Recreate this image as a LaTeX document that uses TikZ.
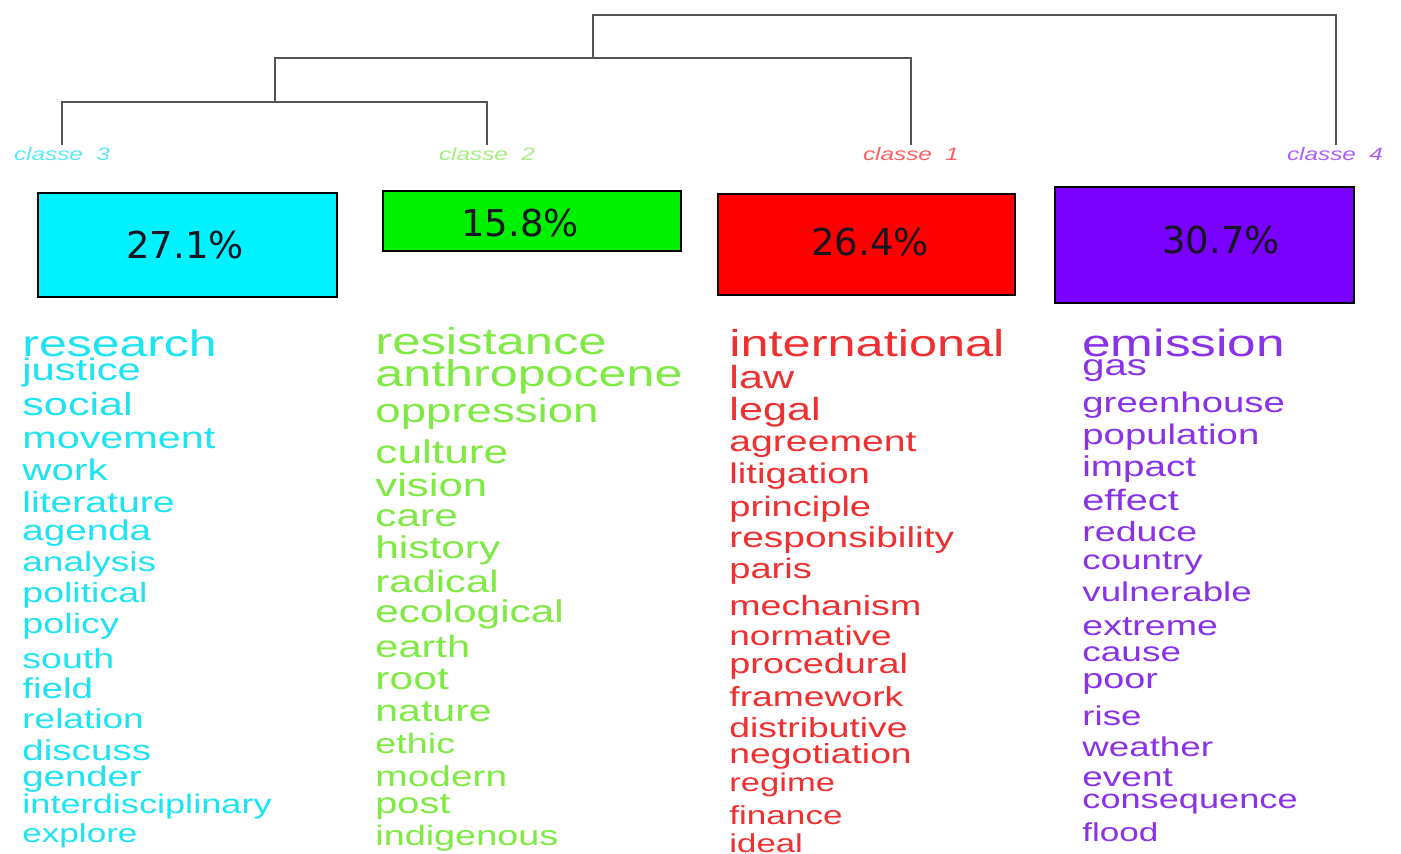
\documentclass[tikz,border=0pt]{standalone}
\usepackage{fontspec}
\setmainfont{Liberation Sans}
\newfontfamily\wf{Liberation Sans}
\newfontfamily\pf{DejaVu Sans}
\definecolor{cyanT}{RGB}{30,228,242}
\definecolor{greenT}{RGB}{128,234,68}
\definecolor{redT}{RGB}{240,48,48}
\definecolor{purpT}{RGB}{138,50,232}
\definecolor{cyanL}{RGB}{90,232,246}
\definecolor{greenL}{RGB}{165,238,125}
\definecolor{redL}{RGB}{255,95,95}
\definecolor{purpL}{RGB}{172,95,255}
\definecolor{cyanB}{RGB}{0,242,255}
\definecolor{greenB}{RGB}{0,242,0}
\definecolor{redB}{RGB}{255,0,0}
\definecolor{purpB}{RGB}{122,0,255}
\definecolor{treeC}{RGB}{85,85,85}
\definecolor{pctC}{RGB}{22,22,32}
\newcommand\W[5]{\node[word] (#1) at (#2,#3) {\fontsize{#4}{#4}\selectfont\scalebox{1.35}[1]{#5}};}
\tikzset{
  word/.style={anchor=base west, inner sep=0pt, font=\wf},
  tree/.style={draw=treeC, line width=1pt},
  pbox/.style={draw=black, line width=1pt, inner sep=0pt},
  pct/.style={text=pctC, inner sep=0pt, font=\pf\fontsize{18.5}{18.5}\selectfont},
  cls/.style={anchor=base, inner sep=0pt, font=\wf\itshape\fontsize{9}{9}\selectfont}
}
\begin{document}
\begin{tikzpicture}[x=0.5pt,y=-0.5pt]
\useasboundingbox[fill=white] (0,0) rectangle (1401,854);
% dendrogram
\coordinate (t3) at (62,145);
\coordinate (t2) at (487,145);
\coordinate (t1) at (911,145);
\coordinate (t4) at (1336,145);
\coordinate (m32) at (275,102);
\coordinate (m321) at (593,58);
\coordinate (root) at (593,15);
\draw[tree] (t3) |- (m32) -| (t2);
\draw[tree] (m32) |- (m321) -| (t1);
\draw[tree] (m321) -- (root) -| (t4);
% class labels
\node[cls,text=cyanL] (c3) at (62,161) {\scalebox{1.35}[1]{classe\ \ 3}};
\node[cls,text=greenL] (c2) at (487,161) {\scalebox{1.35}[1]{classe\ \ 2}};
\node[cls,text=redL] (c1) at (911,161) {\scalebox{1.35}[1]{classe\ \ 1}};
\node[cls,text=purpL] (c4) at (1335,161) {\scalebox{1.35}[1]{classe\ \ 4}};
% boxes
\node[pbox,fill=cyanB,minimum width=149.5pt,minimum height=52pt] (b3) at (187.5,245) {};
\node[pbox,fill=greenB,minimum width=149pt,minimum height=30pt] (b2) at (532,221) {};
\node[pbox,fill=redB,minimum width=148.5pt,minimum height=50.5pt] (b1) at (866.5,244.5) {};
\node[pbox,fill=purpB,minimum width=149.5pt,minimum height=58pt] (b4) at (1204.5,245) {};
\node[pct] (p3) at (185,245) {27.1\%};
\node[pct] (p2) at (520,223) {15.8\%};
\node[pct] (p1) at (870,242) {26.4\%};
\node[pct] (p4) at (1221,240) {30.7\%};
% classe 3 words
\begin{scope}[every node/.append style={text=cyanT}]
\W{a1}{22}{357}{18.5}{research}
\W{a2}{22}{381}{15.5}{justice}
\W{a3}{22}{416}{16}{social}
\W{a4}{22}{449}{15.3}{movement}
\W{a5}{22}{481}{15}{work}
\W{a6}{22}{513}{14.5}{literature}
\W{a7}{22}{541}{14.3}{agenda}
\W{a8}{22}{572}{13.7}{analysis}
\W{a9}{22}{603}{13.9}{political}
\W{a10}{22}{633}{14}{policy}
\W{a11}{22}{668}{13.9}{south}
\W{a12}{22}{698}{14.3}{field}
\W{a13}{22}{728}{13.7}{relation}
\W{a14}{22}{760}{14.3}{discuss}
\W{a15}{22}{786}{14.2}{gender}
\W{a16}{22}{813}{13.4}{interdisciplinary}
\W{a17}{22}{842}{13}{explore}
\end{scope}
% classe 2 words
\begin{scope}[every node/.append style={text=greenT}]
\W{g1}{375}{355}{18.8}{resistance}
\W{g2}{375}{387}{18.6}{anthropocene}
\W{g3}{375}{423}{16.9}{oppression}
\W{g4}{375}{464}{16.4}{culture}
\W{g5}{375}{497}{16.2}{vision}
\W{g6}{375}{527}{15.7}{care}
\W{g7}{375}{559}{15.7}{history}
\W{g8}{375}{593}{15.5}{radical}
\W{g9}{375}{622}{15.7}{ecological}
\W{g10}{375}{657}{15.4}{earth}
\W{g11}{375}{689}{15.8}{root}
\W{g12}{375}{721}{15.2}{nature}
\W{g13}{375}{753}{14}{ethic}
\W{g14}{375}{786}{14.4}{modern}
\W{g15}{375}{813}{14.7}{post}
\W{g16}{375}{845}{14}{indigenous}
\end{scope}
% classe 1 words
\begin{scope}[every node/.append style={text=redT}]
\W{r1}{729}{357}{18.7}{international}
\W{r2}{729}{389}{16}{law}
\W{r3}{729}{421}{16}{legal}
\W{r4}{729}{452}{14.5}{agreement}
\W{r5}{729}{484}{14.2}{litigation}
\W{r6}{729}{517}{14.1}{principle}
\W{r7}{729}{548}{14.4}{responsibility}
\W{r8}{729}{579}{14.1}{paris}
\W{r9}{729}{616}{13.9}{mechanism}
\W{r10}{729}{645}{13.7}{normative}
\W{r11}{729}{673}{14}{procedural}
\W{r12}{729}{706}{13.8}{framework}
\W{r13}{729}{737}{13.8}{distributive}
\W{r14}{729}{763}{13.8}{negotiation}
\W{r15}{729}{791}{12.8}{regime}
\W{r16}{729}{824}{13}{finance}
\W{r17}{729}{852}{12.9}{ideal}
\end{scope}
% classe 4 words
\begin{scope}[every node/.append style={text=purpT}]
\W{v1}{1082}{357}{19}{emission}
\W{v2}{1082}{376}{14.8}{gas}
\W{v3}{1082}{413}{14.2}{greenhouse}
\W{v4}{1082}{445}{14.2}{population}
\W{v5}{1082}{477}{14.3}{impact}
\W{v6}{1082}{511}{14.7}{effect}
\W{v7}{1082}{542}{13.9}{reduce}
\W{v8}{1082}{569}{13.6}{country}
\W{v9}{1082}{602}{13.6}{vulnerable}
\W{v10}{1082}{635}{13.9}{extreme}
\W{v11}{1082}{661}{13.7}{cause}
\W{v12}{1082}{688}{14}{poor}
\W{v13}{1082}{725}{13.6}{rise}
\W{v14}{1082}{756}{13.6}{weather}
\W{v15}{1082}{786}{13.7}{event}
\W{v16}{1082}{808}{13.4}{consequence}
\W{v17}{1082}{841}{13}{flood}
\end{scope}
\end{tikzpicture}
\end{document}
